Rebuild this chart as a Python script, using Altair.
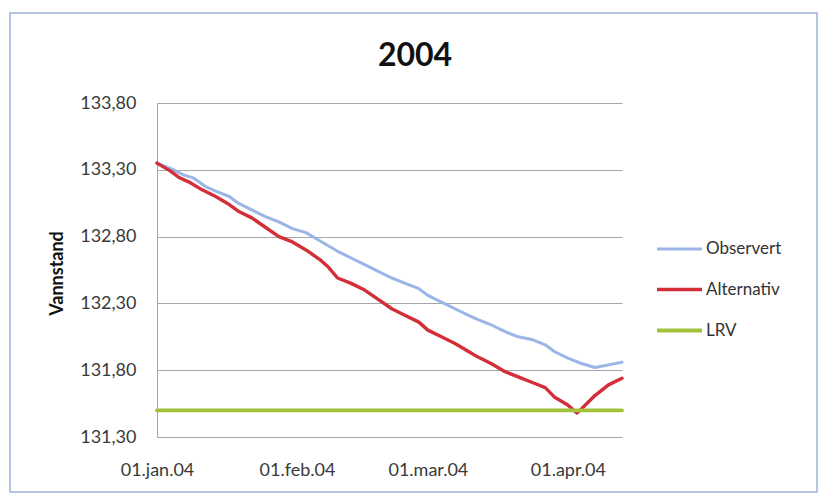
import altair as alt
import pandas as pd

# Observed water level (Observert)
obs_dates = [
    "2004-01-01", "2004-01-04", "2004-01-07", "2004-01-09", "2004-01-12",
    "2004-01-14", "2004-01-17", "2004-01-19", "2004-01-22", "2004-01-25",
    "2004-01-28", "2004-01-31", "2004-02-03", "2004-02-05", "2004-02-07",
    "2004-02-10", "2004-02-13", "2004-02-16", "2004-02-19", "2004-02-22",
    "2004-02-25", "2004-02-28", "2004-03-01", "2004-03-04", "2004-03-07",
    "2004-03-10", "2004-03-12", "2004-03-15", "2004-03-18", "2004-03-21",
    "2004-03-24", "2004-03-27", "2004-03-29", "2004-04-01", "2004-04-04",
    "2004-04-07", "2004-04-10", "2004-04-13",
]
obs_values = [
    133.35, 133.31, 133.26, 133.24, 133.17, 133.14, 133.10, 133.05, 133.00, 132.95,
    132.91, 132.86, 132.83, 132.79, 132.75, 132.69, 132.64, 132.59, 132.54, 132.49,
    132.45, 132.41, 132.36, 132.31, 132.26, 132.21, 132.18, 132.14, 132.09, 132.05,
    132.03, 131.99, 131.94, 131.89, 131.85, 131.82, 131.84, 131.86,
]

# Alternative regulation (Alternativ)
alt_dates = [
    "2004-01-01", "2004-01-04", "2004-01-06", "2004-01-08", "2004-01-11",
    "2004-01-14", "2004-01-17", "2004-01-19", "2004-01-22", "2004-01-25",
    "2004-01-28", "2004-01-31", "2004-02-03", "2004-02-06", "2004-02-08",
    "2004-02-10", "2004-02-13", "2004-02-16", "2004-02-19", "2004-02-22",
    "2004-02-25", "2004-02-28", "2004-03-01", "2004-03-04", "2004-03-07",
    "2004-03-10", "2004-03-12", "2004-03-15", "2004-03-18", "2004-03-21",
    "2004-03-24", "2004-03-27", "2004-03-29", "2004-04-01", "2004-04-03",
    "2004-04-04", "2004-04-07", "2004-04-10", "2004-04-13",
]
alt_values = [
    133.35, 133.29, 133.24, 133.21, 133.15, 133.10, 133.04, 132.99, 132.94, 132.87,
    132.80, 132.76, 132.70, 132.63, 132.57, 132.49, 132.45, 132.40, 132.33, 132.26,
    132.21, 132.16, 132.10, 132.05, 132.00, 131.94, 131.90, 131.85, 131.79, 131.75,
    131.71, 131.67, 131.60, 131.54, 131.48, 131.51, 131.61, 131.69, 131.74,
]

# Lowest regulated level (LRV)
lrv_dates = ["2004-01-01", "2004-04-13"]
lrv_values = [131.50, 131.50]

series_names = ["Observert", "Alternativ", "LRV"]
series_colors = ["#9ab5e6", "#d22f38", "#a3c13b"]
series_widths = [3, 3.8, 2.5]

y_ticks = [131.3, 131.8, 132.3, 132.8, 133.3, 133.8]
x_ticks = [(2004, 1, 1), (2004, 2, 1), (2004, 3, 1), (2004, 4, 1)]
x_range = [(2004, 1, 1), (2004, 4, 13)]

FONT = "Lato"

frames = []
for name, dates, values in [
    ("Observert", obs_dates, obs_values),
    ("Alternativ", alt_dates, alt_values),
    ("LRV", lrv_dates, lrv_values),
]:
    frames.append(pd.DataFrame({"dato": pd.to_datetime(dates), "vannstand": values, "serie": name}))
levels = pd.concat(frames, ignore_index=True)


def dt(t):
    return alt.DateTime(year=t[0], month=t[1], date=t[2])


lines = alt.Chart(levels).mark_line(interpolate="linear", strokeCap="round", strokeJoin="round").encode(
    x=alt.X(
        "dato:T",
        scale=alt.Scale(domain=[dt(t) for t in x_range], nice=False),
        axis=alt.Axis(
            title=None,
            values=[dt(t) for t in x_ticks],
            labelExpr="lower(timeFormat(datum.value, '%d.%b.%y'))",
            grid=False,
            ticks=False,
            domain=False,
            labelFlush=False,
            labelOverlap=False,
            labelBound=False,
            labelAlign="center",
            labelPadding=24,
            labelFont=FONT,
            labelFontSize=18,
            labelColor="#3a3a3a",
            labelBaseline="top",
        ),
    ),
    y=alt.Y(
        "vannstand:Q",
        scale=alt.Scale(domain=[131.3, 133.8], nice=False, zero=False),
        axis=alt.Axis(
            title="Vannstand",
            values=y_ticks,
            labelExpr="replace(format(datum.value, '.2f'), '.', ',')",
            grid=True,
            gridColor="#a6a6a6",
            gridWidth=1,
            ticks=False,
            domain=True,
            domainColor="#a6a6a6",
            domainWidth=1,
            labelFlush=False,
            labelPadding=21,
            labelFont=FONT,
            labelFontSize=18,
            labelColor="#3a3a3a",
            titleFont=FONT,
            titleFontSize=18,
            titleFontWeight="bold",
            titleColor="#111111",
            titleAngle=-90,
            titleX=-100,
            titleY=170,
            titleAlign="center",
            titleBaseline="middle",
        ),
    ),
    color=alt.Color(
        "serie:N",
        scale=alt.Scale(domain=series_names, range=series_colors),
        sort=series_names,
        legend=alt.Legend(
            title=None,
            orient="none",
            legendX=498,
            legendY=122,
            symbolType="stroke",
            symbolSize=2025,
            symbolStrokeWidth=3,
            rowPadding=8,
            labelOffset=2,
            labelFont=FONT,
            labelFontSize=17,
            labelColor="#333333",
        ),
    ),
    strokeWidth=alt.StrokeWidth(
        "serie:N",
        scale=alt.Scale(domain=series_names, range=series_widths),
        legend=None,
    ),
    order=alt.Order("dato:T"),
)

title = alt.Chart(pd.DataFrame({"tekst": ["2004"]})).mark_text(
    font=FONT, fontSize=32, fontWeight="bold", color="#111111",
    align="center", baseline="alphabetic",
).encode(text="tekst:N", x=alt.value(258), y=alt.value(-37))

frame = alt.Chart(pd.DataFrame({"k": [0]})).mark_rect(
    fill="transparent", stroke="#9db4dd", strokeWidth=1.5,
).encode(x=alt.value(-147), x2=alt.value(660), y=alt.value(-90), y2=alt.value(389))

chart = alt.layer(frame, lines, title).properties(
    width=465,
    height=334,
    autosize=alt.AutoSizeParams(type="none"),
    padding={"left": 157, "top": 103, "right": 198, "bottom": 58},
    background="white",
).configure_view(stroke=None)

chart.save("out.html", embed_options={"renderer": "svg", "actions": False})
